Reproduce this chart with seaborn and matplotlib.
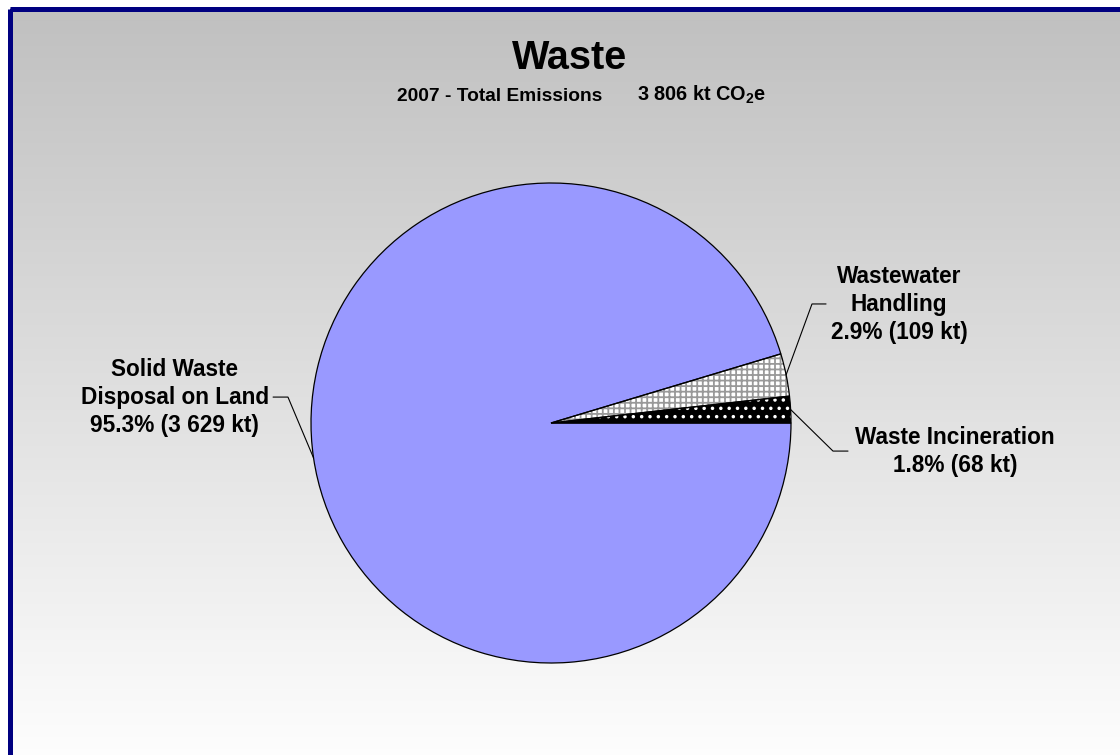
import numpy as np
import matplotlib
matplotlib.use('Agg')
import matplotlib.pyplot as plt
import seaborn as sns
from matplotlib.patches import Rectangle

# %% Dados
categorias = ['Waste Incineration', 'Wastewater\nHandling', 'Solid Waste\nDisposal on Land']
valores_kt = [68, 109, 3629]
percentuais = ['1.8%', '2.9%', '95.3%']
valores_txt = ['68 kt', '109 kt', '3 629 kt']
total_txt = '3 806 kt'

cores = ['#000000', '#FFFFFF', '#9999FF']
hachuras = ['..', '+++', None]
cor_hachura = ['#FFFFFF', '#999999', '#9999FF']

# %% Estilo
sns.set_theme(style='white')
plt.rcParams['font.family'] = ['Liberation Sans', 'DejaVu Sans']
plt.rcParams['font.weight'] = 'bold'
plt.rcParams['text.color'] = 'black'
plt.rcParams['mathtext.fontset'] = 'custom'
plt.rcParams['mathtext.rm'] = 'Liberation Sans:bold'
plt.rcParams['mathtext.bf'] = 'Liberation Sans:bold'
plt.rcParams['hatch.linewidth'] = 1.3

W, H = 1120, 755
fig = plt.figure(figsize=(W / 100, H / 100), dpi=100)
fig.patch.set_facecolor('white')

# fundo em degradê + moldura azul
bg = fig.add_axes([0, 0, 1, 1])
bg.axis('off')
grad = np.linspace(0.753, 1.0, 256).reshape(-1, 1)
bg.imshow(np.dstack([grad, grad, grad]), extent=[9.5, W + 20, H + 20, 8.5],
          aspect='auto', interpolation='bilinear')
bg.add_patch(Rectangle((9.5, 8.5), 1300, 900, fill=False, edgecolor='#000080', lw=3.6))
bg.set_xlim(0, W)
bg.set_ylim(H, 0)

# %% Pizza
cx, cy, R = 551, 423, 240
ax = fig.add_axes([(cx - R) / W, (H - cy - R) / H, 2 * R / W, 2 * R / H])
ax.set_facecolor('none')

# camada de preenchimento com hachura (cor da hachura = cor da borda)
w_fill, _ = ax.pie(valores_kt, colors=cores, startangle=0, counterclock=True,
                   wedgeprops=dict(linewidth=0))
for w, h, hc in zip(w_fill, hachuras, cor_hachura):
    if h:
        w.set_hatch(h)
        w.set_edgecolor(hc)
# contorno preto
ax.pie(valores_kt, colors=['none'] * 3, startangle=0, counterclock=True,
       wedgeprops=dict(linewidth=0.9, edgecolor='black', fill=False))
ax.set_xlim(-1, 1)
ax.set_ylim(-1, 1)
ax.axis('off')

# %% Rótulos com linhas de chamada
pos_rotulo = [(1.683, -0.117), (1.45, 0.492), (-1.567, 0.108)]
cotovelo = [(1.175, -0.117), (1.0875, 0.496), (-1.096, 0.108)]
fim_linha = [(1.2375, -0.117), (1.146, 0.496), (-1.158, 0.108)]

ang0 = 0
total = sum(valores_kt)
for i, v in enumerate(valores_kt):
    ang1 = ang0 + 360 * v / total
    meio = np.deg2rad((ang0 + ang1) / 2)
    ang0 = ang1
    px, py = np.cos(meio), np.sin(meio)
    ax.plot([px, cotovelo[i][0], fim_linha[i][0]],
            [py, cotovelo[i][1], fim_linha[i][1]],
            color='black', lw=0.8, clip_on=False)
    ax.text(pos_rotulo[i][0], pos_rotulo[i][1],
            f'{categorias[i]}\n{percentuais[i]} ({valores_txt[i]})',
            ha='center', va='center', multialignment='center',
            fontsize=16.3, fontweight='bold', linespacing=1.28, clip_on=False)

# %% Títulos
fig.text(570 / W, 1 - 69 / H, 'Waste', ha='center', va='baseline',
         fontsize=28.5, fontweight='bold')
fig.text(602 / W, 1 - 101 / H, '2007 - Total Emissions',
         ha='right', va='baseline', fontsize=13.8, fontweight='bold')
fig.text(637 / W, 1 - 101 / H, total_txt + r' CO$_\mathbf{2}$e',
         ha='left', va='baseline', fontsize=14.3, fontweight='bold')

fig.savefig('out.png', dpi=100)
